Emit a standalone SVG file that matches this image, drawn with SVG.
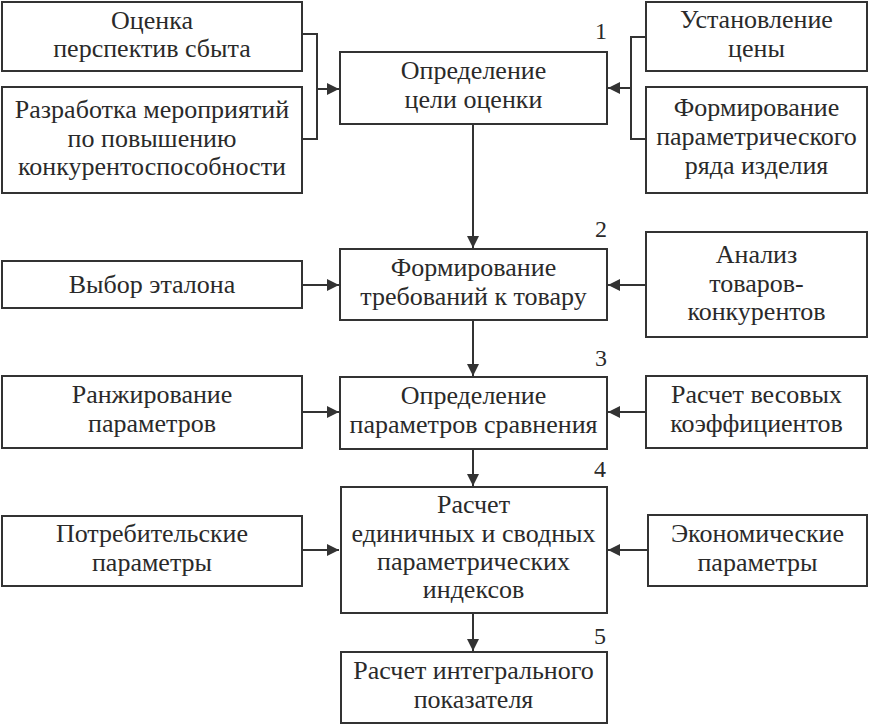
<svg xmlns="http://www.w3.org/2000/svg" width="869" height="725" viewBox="0 0 869 725">
<defs>
<style>
.box{fill:#fff;stroke:#333;stroke-width:2}
.t{font-family:"Liberation Serif","Tinos","Noto Serif","DejaVu Serif","Times New Roman",Times,serif;font-size:26px;fill:#2a2a2a;text-anchor:middle}
.n{font-family:"Liberation Serif","Tinos","Noto Serif","DejaVu Serif","Times New Roman",Times,serif;font-size:24px;fill:#2a2a2a;text-anchor:end}
.c{fill:none;stroke:#333;stroke-width:2}
</style>
<marker id="ah" markerUnits="userSpaceOnUse" markerWidth="13" markerHeight="12" refX="12" refY="6" orient="auto">
<path d="M0,0 L12,6 L0,12 z" fill="#333"/>
</marker>
</defs>
<rect width="869" height="725" fill="#fff"/>
<g id="connectors">
<path class="c" d="M302,34 H317 V139 H302"/>
<path class="c" d="M317,89 H339" marker-end="url(#ah)"/>
<path class="c" d="M646,37 H631 V139 H646"/>
<path class="c" d="M631,88 H608" marker-end="url(#ah)"/>
<path class="c" d="M473,124 V248" marker-end="url(#ah)"/>
<path class="c" d="M473,320 V376" marker-end="url(#ah)"/>
<path class="c" d="M473,449 V486" marker-end="url(#ah)"/>
<path class="c" d="M473,613 V651" marker-end="url(#ah)"/>
<path class="c" d="M302,285 H339" marker-end="url(#ah)"/>
<path class="c" d="M646,285 H608" marker-end="url(#ah)"/>
<path class="c" d="M302,412 H339" marker-end="url(#ah)"/>
<path class="c" d="M646,412 H608" marker-end="url(#ah)"/>
<path class="c" d="M302,550 H339" marker-end="url(#ah)"/>
<path class="c" d="M648,550 H608" marker-end="url(#ah)"/>
</g>
<g id="labels">
<text class="n" x="607" y="39">1</text>
<text class="n" x="607" y="237">2</text>
<text class="n" x="607" y="366">3</text>
<text class="n" x="606" y="477">4</text>
<text class="n" x="606" y="644">5</text>
</g>
<g id="l1"><rect class="box" x="2" y="2" width="300" height="69"/>
<text class="t" x="152" y="29">Оценка</text><text class="t" x="152" y="57">перспектив сбыта</text></g>
<g id="l2"><rect class="box" x="2" y="87" width="300" height="106"/>
<text class="t" x="152" y="118">Разработка мероприятий</text><text class="t" x="152" y="147">по повышению</text><text class="t" x="152" y="175">конкурентоспособности</text></g>
<g id="l3"><rect class="box" x="2" y="261" width="300" height="47"/>
<text class="t" x="152" y="293">Выбор эталона</text></g>
<g id="l4"><rect class="box" x="2" y="376" width="300" height="72"/>
<text class="t" x="152" y="403">Ранжирование</text><text class="t" x="152" y="432">параметров</text></g>
<g id="l5"><rect class="box" x="2" y="516" width="300" height="70"/>
<text class="t" x="152" y="542">Потребительские</text><text class="t" x="152" y="571">параметры</text></g>
<g id="c1"><rect class="box" x="340" y="52" width="267" height="72"/>
<text class="t" x="473.5" y="79">Определение</text><text class="t" x="473.5" y="108">цели оценки</text></g>
<g id="c2"><rect class="box" x="340" y="249" width="267" height="71"/>
<text class="t" x="473.5" y="276">Формирование</text><text class="t" x="473.5" y="305">требований к товару</text></g>
<g id="c3"><rect class="box" x="340" y="377" width="267" height="72"/>
<text class="t" x="473.5" y="404">Определение</text><text class="t" x="473.5" y="433">параметров сравнения</text></g>
<g id="c4"><rect class="box" x="341" y="487" width="266" height="126"/>
<text class="t" x="473.5" y="513">Расчет</text><text class="t" x="473.5" y="542">единичных и сводных</text><text class="t" x="473.5" y="570">параметрических</text><text class="t" x="473.5" y="598">индексов</text></g>
<g id="c5"><rect class="box" x="341" y="652" width="266" height="71"/>
<text class="t" x="473.5" y="679">Расчет интегрального</text><text class="t" x="473.5" y="708">показателя</text></g>
<g id="r1"><rect class="box" x="646" y="2" width="221" height="69"/>
<text class="t" x="756.5" y="28">Установление</text><text class="t" x="756.5" y="57">цены</text></g>
<g id="r2"><rect class="box" x="646" y="87" width="221" height="106"/>
<text class="t" x="756.5" y="116">Формирование</text><text class="t" x="756.5" y="145">параметрического</text><text class="t" x="756.5" y="174">ряда изделия</text></g>
<g id="r3"><rect class="box" x="646" y="232" width="221" height="105"/>
<text class="t" x="756.5" y="263">Анализ</text><text class="t" x="756.5" y="292">товаров-</text><text class="t" x="756.5" y="320">конкурентов</text></g>
<g id="r4"><rect class="box" x="646" y="376" width="221" height="72"/>
<text class="t" x="756.5" y="403">Расчет весовых</text><text class="t" x="756.5" y="432">коэффициентов</text></g>
<g id="r5"><rect class="box" x="648" y="515" width="219" height="71"/>
<text class="t" x="757.5" y="542">Экономические</text><text class="t" x="757.5" y="571">параметры</text></g>
</svg>
